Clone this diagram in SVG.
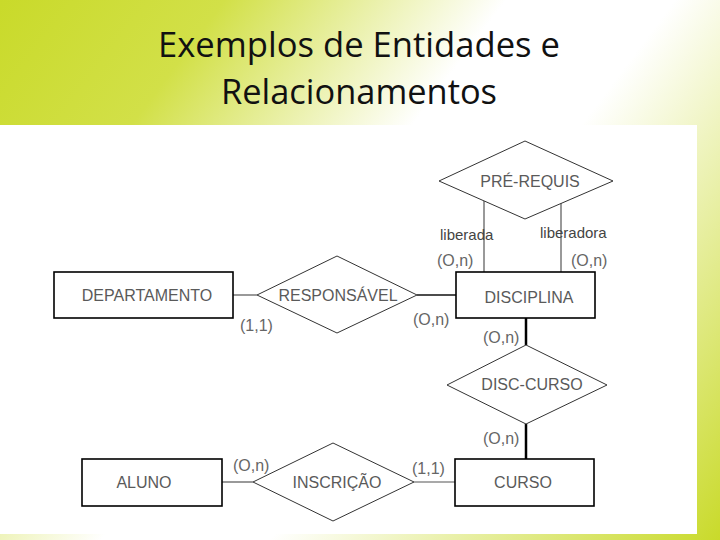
<svg xmlns="http://www.w3.org/2000/svg" width="720" height="540" viewBox="0 0 720 540">
  <defs>
    <linearGradient id="bg" x1="0" y1="0" x2="720" y2="540" gradientUnits="userSpaceOnUse">
      <stop offset="0" stop-color="#c9da2a"/>
      <stop offset="0.2" stop-color="#d2e048"/>
      <stop offset="0.45" stop-color="#ffffff"/>
      <stop offset="0.6" stop-color="#ffffff"/>
      <stop offset="1" stop-color="#c9da2a"/>
    </linearGradient>
    <style>
      .title { font-family: "Open Sans", "Noto Sans", sans-serif; font-size: 34px; fill: #111; text-anchor: middle; }
      .ent { fill: #ffffff; stroke: #000; stroke-width: 1.6; }
      .rel { fill: #ffffff; stroke: #333; stroke-width: 1; }
      .lbl { font-family: "Liberation Sans", Arial, sans-serif; font-size: 16px; fill: #5a5a5a; text-anchor: middle; }
      .card { font-family: "Liberation Sans", Arial, sans-serif; font-size: 16px; fill: #666; }
      .role { font-family: "Liberation Sans", Arial, sans-serif; font-size: 15px; fill: #444; }
      .thin { stroke: #555; stroke-width: 1.2; fill: none; }
      .gray { stroke: #999; stroke-width: 2; fill: none; }
      .bold { stroke: #000; stroke-width: 2.5; fill: none; }
      .mid { stroke: #111; stroke-width: 1.5; fill: none; }
    </style>
  </defs>

  <rect x="0" y="0" width="720" height="540" fill="url(#bg)"/>
  <rect x="0" y="125" width="697" height="409" fill="#ffffff"/>

  <text class="title" x="359" y="57" textLength="402" lengthAdjust="spacingAndGlyphs">Exemplos de Entidades e</text>
  <text class="title" x="359" y="104" textLength="276" lengthAdjust="spacingAndGlyphs">Relacionamentos</text>

  <g id="connectors">
    <line class="gray" x1="484" y1="201" x2="484" y2="272"/>
    <line class="gray" x1="561" y1="203" x2="561" y2="272"/>
    <line class="thin" x1="233" y1="295" x2="257" y2="295"/>
    <line class="mid" x1="417" y1="295" x2="456" y2="295"/>
    <line class="bold" x1="526" y1="318" x2="526" y2="345"/>
    <line class="bold" x1="526" y1="424" x2="526" y2="459"/>
    <line class="gray" x1="222" y1="482" x2="253" y2="482"/>
    <line class="thin" x1="414" y1="482" x2="455" y2="482"/>
  </g>

  <g id="pre-requis">
    <polygon class="rel" points="439,181 525,141 613,181 525,219"/>
    <text class="lbl" x="530" y="187">PRÉ-REQUIS</text>
  </g>
  <g id="labels-pre-requis">
    <text class="role" x="440" y="240">liberada</text>
    <text class="role" x="540" y="238">liberadora</text>
    <text class="card" x="437" y="266">(O,n)</text>
    <text class="card" x="571" y="266">(O,n)</text>
  </g>

  <g id="departamento">
    <rect class="ent" x="54" y="272" width="179" height="46"/>
    <text class="lbl" x="147" y="301">DEPARTAMENTO</text>
  </g>

  <g id="responsavel">
    <polygon class="rel" points="257,295 337,256 417,295 337,333"/>
    <text class="lbl" x="338" y="301">RESPONSÁVEL</text>
    <text class="card" x="240" y="331">(1,1)</text>
    <text class="card" x="413" y="325">(O,n)</text>
  </g>

  <g id="disciplina">
    <rect class="ent" x="456" y="272" width="139" height="46"/>
    <text class="lbl" x="529" y="303">DISCIPLINA</text>
  </g>

  <g id="disc-curso">
    <polygon class="rel" points="447,385 526,345 607,385 526,424"/>
    <text class="lbl" x="532" y="390">DISC-CURSO</text>
    <text class="card" x="483" y="343">(O,n)</text>
    <text class="card" x="483" y="444">(O,n)</text>
  </g>

  <g id="aluno">
    <rect class="ent" x="82" y="459" width="140" height="47"/>
    <text class="lbl" x="144" y="488">ALUNO</text>
  </g>

  <g id="inscricao">
    <polygon class="rel" points="253,482 333,443 414,482 333,521"/>
    <text class="lbl" x="337" y="488">INSCRIÇÃO</text>
    <text class="card" x="233" y="471">(O,n)</text>
    <text class="card" x="412" y="474">(1,1)</text>
  </g>

  <g id="curso">
    <rect class="ent" x="455" y="459" width="139" height="47"/>
    <text class="lbl" x="523" y="488">CURSO</text>
  </g>
</svg>
